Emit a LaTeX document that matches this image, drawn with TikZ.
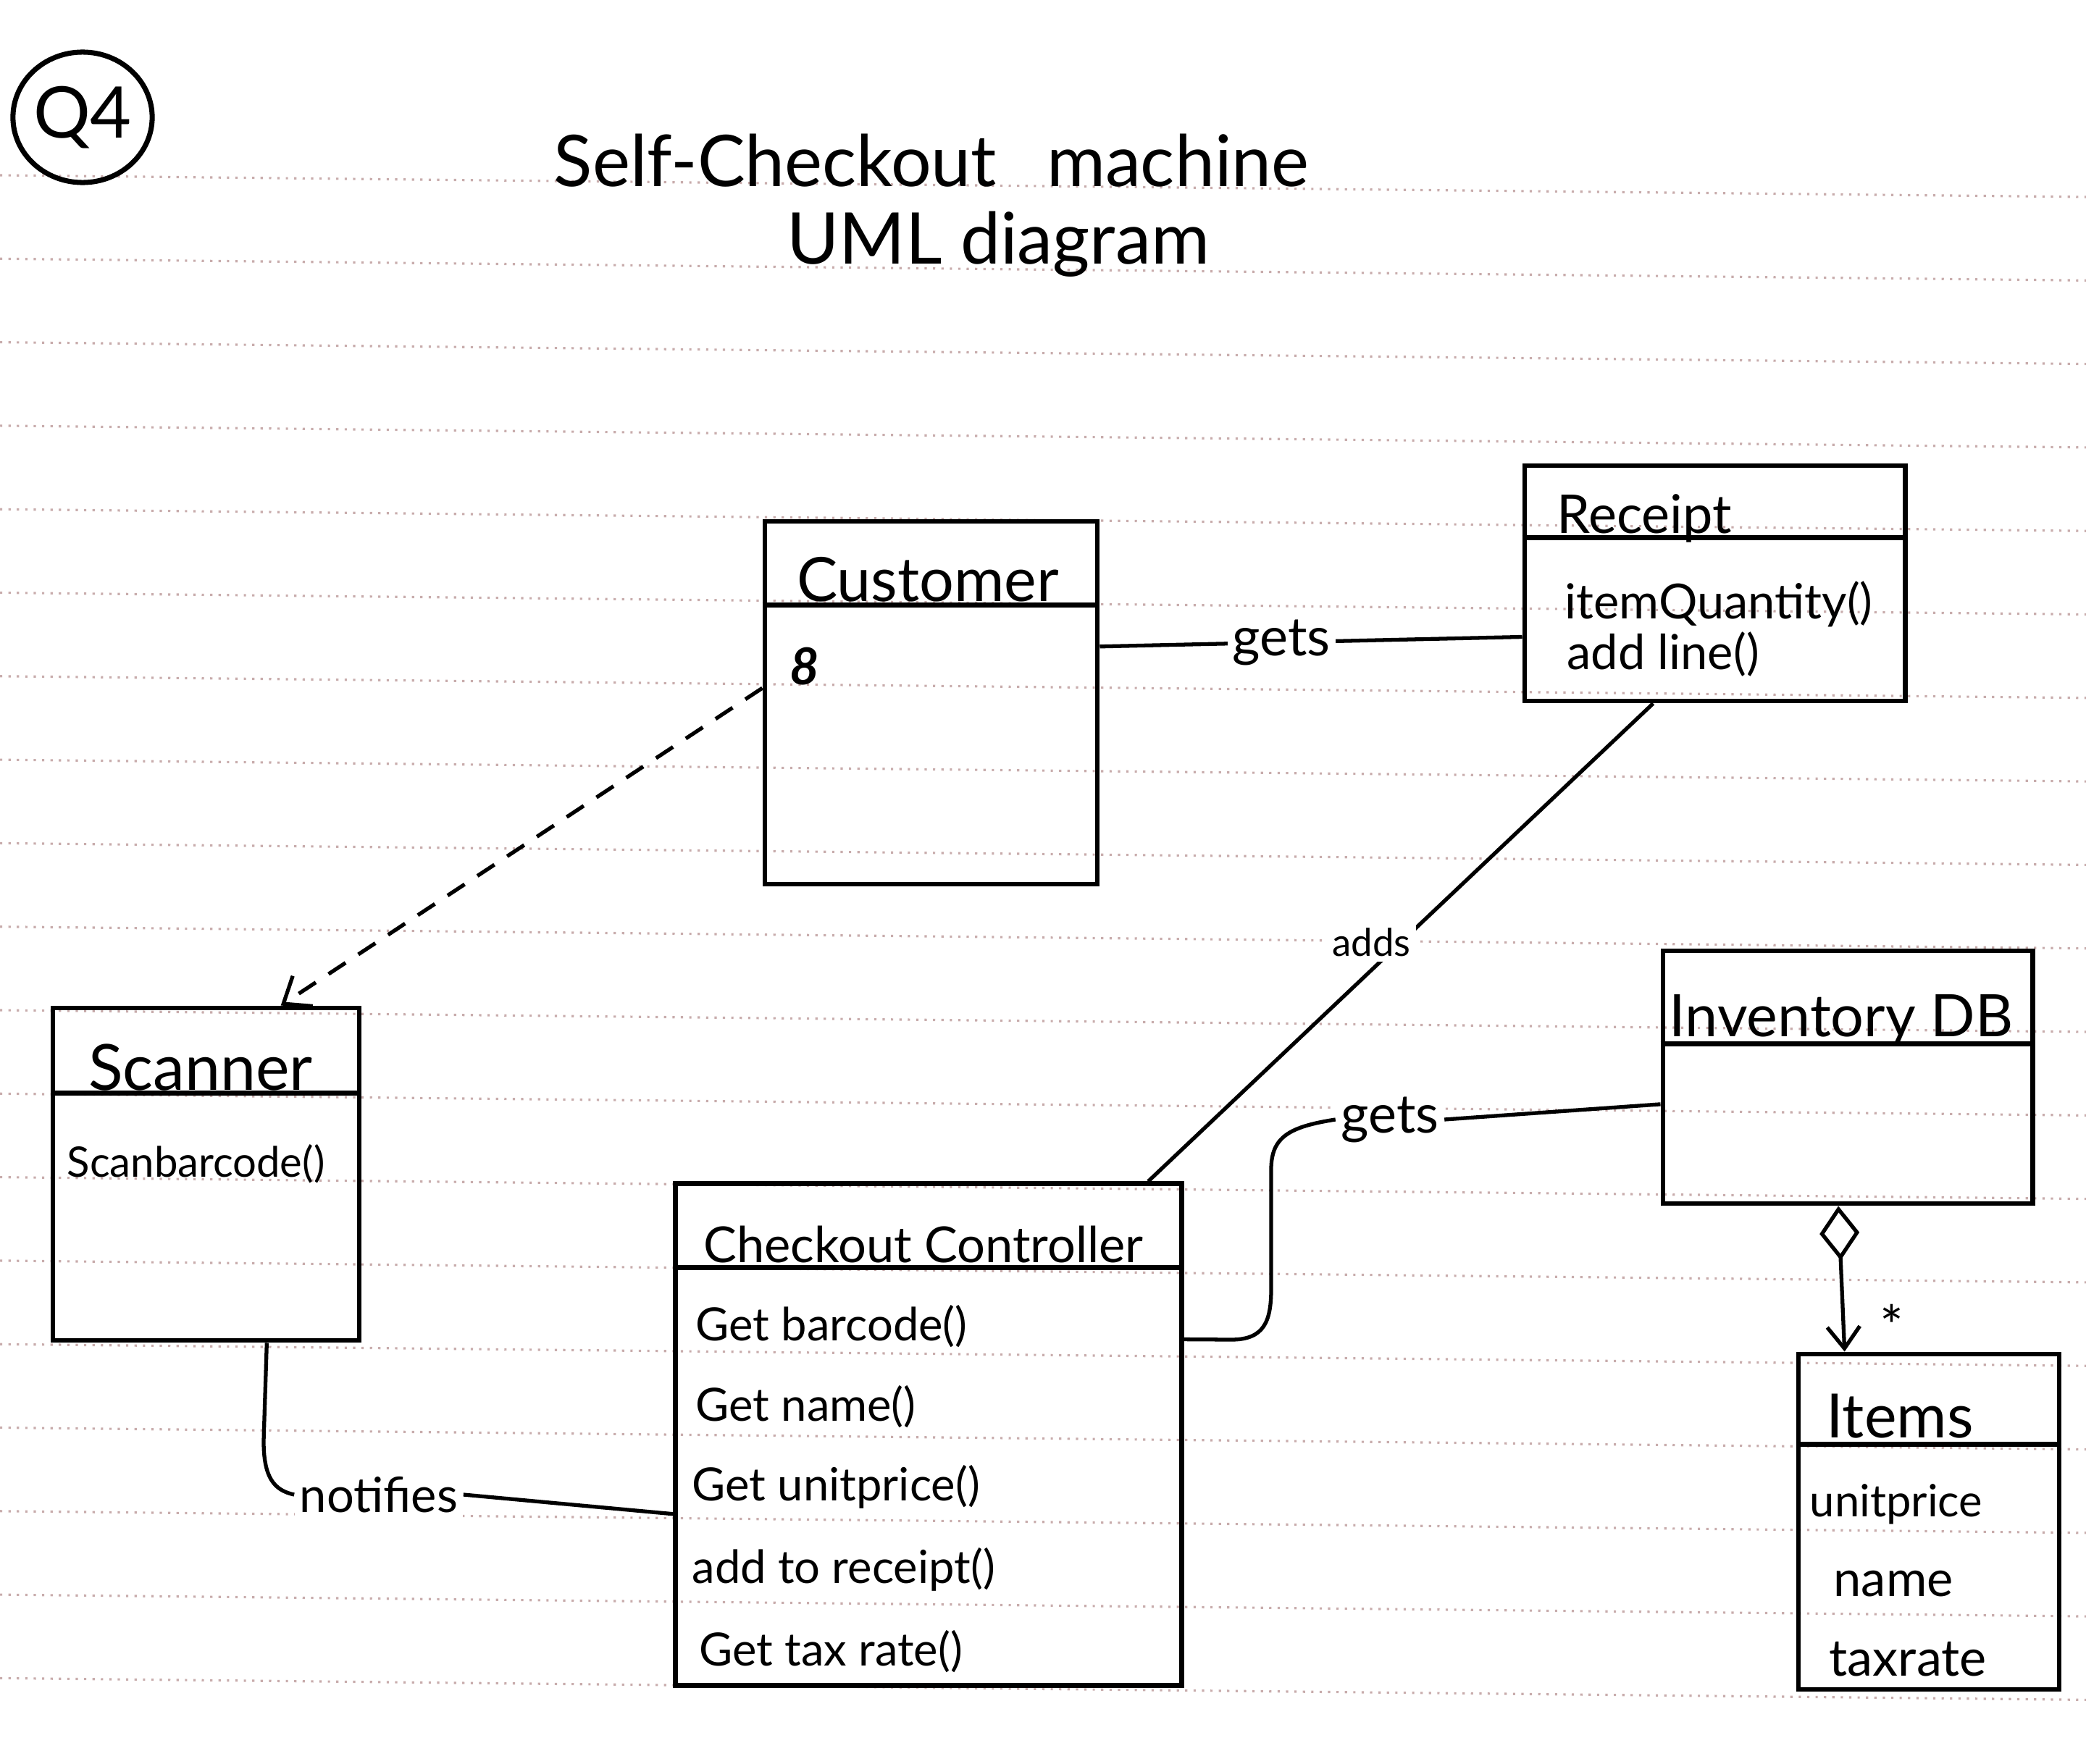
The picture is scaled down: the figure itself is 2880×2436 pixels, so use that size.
\documentclass[tikz,border=0pt]{standalone}
\usepackage{fontspec}
\setmainfont{Lato}
\usetikzlibrary{arrows.meta,calc,shapes.geometric}
\definecolor{rulecol}{RGB}{200,172,172}

\begin{document}
\begin{tikzpicture}[x=0.01cm, y=-0.01cm,
    ruling/.style={draw=rulecol, line width=0.9pt, dash pattern=on 0.9pt off 2.4pt},
    classbox/.style={draw, line width=1.9pt, inner sep=0pt},
    classline/.style={line width=1.9pt},
    conn/.style={line width=1.5pt},
    dashline/.style={dash pattern=on 8pt off 6pt},
    nametext/.style={anchor=base, inner sep=0pt, font=\fontsize{24pt}{28pt}\selectfont},
    membtext/.style={anchor=base west, inner sep=0pt, font=\fontsize{18pt}{22pt}\selectfont},
    lbl/.style={fill=white, inner sep=2pt, font=\fontsize{21pt}{24pt}\selectfont},
    titletext/.style={anchor=base, inner sep=0pt, font=\fontsize{28pt}{32pt}\selectfont}]
  \useasboundingbox (0,0) rectangle (2880,2436);

  % ruled paper
  \foreach \k in {0,...,18}
    \draw[ruling] (0,242+115.3*\k) -- (2880,272+115.3*\k);

  % question number
  \node[ellipse, draw, line width=2pt, inner sep=0pt, minimum width=1.92cm, minimum height=1.8cm,
        font=\fontsize{28pt}{30pt}\selectfont] (qnum) at (114,162) {Q4};

  % title
  \node[titletext] (title1) at (1286,257) {Self-Checkout\hspace{0.7em}machine};
  \node[titletext] (title2) at (1378,364) {UML diagram};

  % Customer
  \node[classbox, minimum width=4.59cm, minimum height=5.01cm] (cust) at (1285.5,970.5) {};
  \draw[classline] ($(cust.north west)+(0,119)$) -- ($(cust.north east)+(0,119)$);
  \node[nametext] (custname) at (1281,830) {Customer};
  \node[font=\fontsize{20pt}{22pt}\selectfont\bfseries\itshape] (custmark) at (1111,920) {8};

  % Receipt
  \node[classbox, minimum width=5.25cm, minimum height=3.25cm] (rcpt) at (2367.5,805.5) {};
  \draw[classline] ($(rcpt.north west)+(0,103)$) -- ($(rcpt.north east)+(0,103)$);
  \node[nametext, font=\fontsize{21pt}{24pt}\selectfont] (rcptname) at (2270,736) {Receipt};
  \node[membtext, font=\fontsize{19pt}{22pt}\selectfont] (rcptm1) at (2160,854) {itemQuantity()};
  \node[membtext, font=\fontsize{19pt}{22pt}\selectfont] (rcptm2) at (2163,924) {add line()};

  % Scanner
  \node[classbox, minimum width=4.23cm, minimum height=4.59cm] (scn) at (284.5,1621.5) {};
  \draw[classline] ($(scn.north west)+(0,121)$) -- ($(scn.north east)+(0,121)$);
  \node[nametext, font=\fontsize{25pt}{28pt}\selectfont] (scnname) at (277,1505) {Scanner};
  \node[membtext, font=\fontsize{16.5pt}{20pt}\selectfont] (scnm1) at (92,1625) {Scanbarcode()};

  % Checkout Controller
  \node[classbox, minimum width=6.98cm, minimum height=6.92cm] (cc) at (1282,1981) {};
  \draw[classline] ($(cc.north west)+(0,119)$) -- ($(cc.north east)+(0,119)$);
  \node[nametext, font=\fontsize{19.5pt}{23pt}\selectfont] (ccname) at (1275,1743) {Checkout Controller};
  \node[membtext] (ccm1) at (960,1851) {Get barcode()};
  \node[membtext] (ccm2) at (960,1962) {Get name()};
  \node[membtext] (ccm3) at (955,2072) {Get unitprice()};
  \node[membtext] (ccm4) at (955,2186) {add to receipt()};
  \node[membtext] (ccm5) at (965,2300) {Get tax rate()};

  % Inventory DB
  \node[classbox, minimum width=5.10cm, minimum height=3.49cm] (inv) at (2551,1487.5) {};
  \draw[classline] ($(inv.north west)+(0,132)$) -- ($(inv.north east)+(0,132)$);
  \node[nametext, font=\fontsize{23pt}{26pt}\selectfont] (invname) at (2542,1431) {Inventory DB};

  % Items
  \node[classbox, minimum width=3.60cm, minimum height=4.63cm] (items) at (2663,2101.5) {};
  \draw[classline] ($(items.north west)+(0,128)$) -- ($(items.north east)+(0,128)$);
  \node[nametext] (itemsname) at (2623,1985) {Items};
  \node[membtext, font=\fontsize{17.5pt}{22pt}\selectfont] (itemsa1) at (2498,2094) {unitprice};
  \node[membtext, font=\fontsize{19.5pt}{22pt}\selectfont] (itemsa2) at (2531,2204) {name};
  \node[membtext, font=\fontsize{20pt}{22pt}\selectfont] (itemsa3) at (2525,2314) {taxrate};

  % customer gets receipt
  \draw[conn] ($(cust.north east)!0.347!(cust.south east)$) -- ($(rcpt.north west)!0.723!(rcpt.south west)$)
    node[lbl, pos=0.43] (gets1) {gets};

  % controller adds to receipt
  \draw[conn] ($(rcpt.south west)!0.34!(rcpt.south east)$) -- ($(cc.north west)!0.93!(cc.north east)$)
    node[lbl, midway, xshift=-0.4cm, font=\fontsize{15pt}{17pt}\selectfont] (adds) {adds};

  % customer uses scanner
  \draw[conn, dashline, -{Straight Barb[length=0.32cm, width=0.5cm]}]
    ($(cust.north west)!0.46!(cust.south west)$) -- ($(scn.north west)!0.74!(scn.north east)$);

  % scanner notifies controller
  \node[lbl, font=\fontsize{19pt}{22pt}\selectfont] (notif) at (523,2064) {notifies};
  \draw[conn] ($(scn.south west)!0.695!(scn.south east)$) -- (364,1990)
    .. controls (364,2040) and (378,2058) .. (notif.west);
  \draw[conn] (notif.east) -- ($(cc.north west)!0.657!(cc.south west)$);

  % controller gets inventory
  \node[lbl] (gets2) at (1919,1546) {gets};
  \draw[conn] ($(cc.north east)!0.312!(cc.south east)$) -- (1700,1850)
    .. controls (1745,1850) and (1755,1825) .. (1755,1780) -- (1755,1615)
    .. controls (1755,1570) and (1780,1556) .. (gets2.west);
  \draw[conn] (gets2.east) -- ($(inv.north west)!0.605!(inv.south west)$);

  % inventory holds items
  \draw[conn, {Diamond[open, length=0.75cm, width=0.55cm]}-{Straight Barb[length=0.3cm, width=0.45cm]}]
    ($(inv.south west)!0.475!(inv.south east)$) -- ($(items.north west)!0.183!(items.north east)$)
    node[pos=0.82, right=0.36cm, font=\fontsize{22pt}{24pt}\selectfont] (mult) {*};
\end{tikzpicture}
\end{document}
